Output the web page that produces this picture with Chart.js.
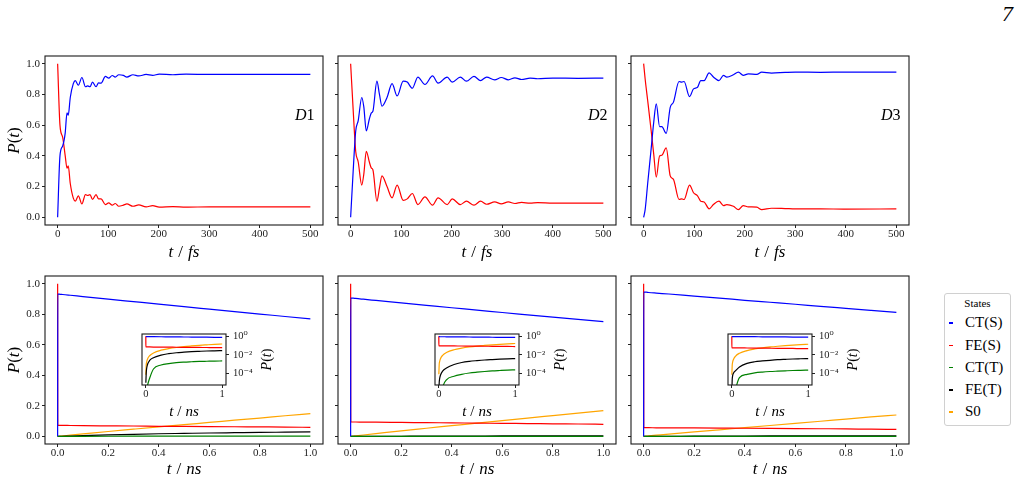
<!DOCTYPE html>
<html><head><meta charset="utf-8">
<script src="https://cdn.jsdelivr.net/npm/chart.js@4.4.1/dist/chart.umd.min.js"></script>
<style>
html,body{margin:0;padding:0;background:#fff;}
body{width:1024px;height:488px;position:relative;overflow:hidden;font-family:"Liberation Serif","DejaVu Serif",serif;color:#000;}
canvas{position:absolute;}
#legend{position:absolute;left:944px;top:293px;width:67px;height:133px;border:1px solid #d0d0d0;border-radius:3px;box-sizing:border-box;background:#fff;}
.lg{position:absolute;white-space:nowrap;color:#000;font-weight:normal;}
#pageno{position:absolute;left:1002px;top:3px;font-size:22px;line-height:22px;font-style:italic;color:#000;}
</style></head><body>
<div id="pageno">7</div>
<div id="legend"></div>
<script>
// ---------------- data ----------------
const stateNames = ['CT(S)','FE(S)','CT(T)','FE(T)','S0'];
const stateColors = ['#0000ff','#ff0000','#008000','#000000','#ffa500'];
const panelNames = ['D1','D2','D3'];
const fsTicks = [0,100,200,300,400,500];
const nsTicks = [0,0.2,0.4,0.6,0.8,1.0];
const pTicks = [0,0.2,0.4,0.6,0.8,1.0];
const insetXTicks = [0,1];
const insetYTicks = [1,1e-2,1e-4];
const insetYTickLabels = ['10\u2070','10\u207B\u00B2','10\u207B\u2074'];

// short-time dynamics (fs)
const d1Time = [0,4.6,10,15,18.5,21,25,31,35,41,48,55,59.5,64,69,76,81,86,94.5,101,108,114,121,130,137,149,160.5,175,188,201,228,254,300,400,500];
const d1CTS = [0,0.40,0.465,0.55,0.68,0.665,0.78,0.87,0.89,0.86,0.91,0.85,0.855,0.85,0.88,0.85,0.875,0.873,0.917,0.906,0.923,0.913,0.928,0.924,0.913,0.928,0.92,0.93,0.924,0.932,0.928,0.932,0.93,0.93,0.93];
const d1FES = [1.0,0.6,0.52,0.40,0.32,0.335,0.22,0.125,0.105,0.14,0.087,0.148,0.142,0.148,0.116,0.148,0.12,0.12,0.083,0.094,0.079,0.09,0.072,0.079,0.087,0.072,0.081,0.068,0.076,0.066,0.07,0.066,0.068,0.068,0.068];

const d2Time = [0,5,10,15,22,26,31,37,41,44,52,57,62,72,82,92,104,112,122,133,147,162,173,191,201,217,229,244,257,269,285,298,312,325,338,355,370,400,450,500];
const d2CTS = [0,0.3,0.56,0.63,0.78,0.72,0.563,0.64,0.68,0.69,0.886,0.80,0.723,0.78,0.87,0.79,0.886,0.88,0.84,0.913,0.865,0.92,0.873,0.913,0.88,0.913,0.886,0.917,0.89,0.913,0.895,0.91,0.895,0.908,0.897,0.906,0.902,0.906,0.905,0.906];
const d2FES = [1.0,0.7,0.43,0.36,0.21,0.28,0.43,0.36,0.32,0.31,0.105,0.19,0.27,0.2,0.127,0.21,0.11,0.12,0.155,0.083,0.133,0.079,0.127,0.083,0.12,0.083,0.105,0.079,0.105,0.085,0.1,0.088,0.1,0.09,0.097,0.092,0.095,0.092,0.093,0.092];

const d3Time = [0,3,8,15,20,25,31.6,36,44.7,52.6,59,70,75.6,80,90.8,98.7,106.6,113,119.7,129.6,138,149,158,164.5,177.6,187.5,197,207,224,233.5,253,280,300,350,400,500];
const d3CTS = [0,0.05,0.22,0.45,0.62,0.738,0.59,0.59,0.546,0.716,0.75,0.884,0.88,0.884,0.786,0.836,0.847,0.89,0.89,0.94,0.913,0.89,0.924,0.913,0.928,0.945,0.924,0.934,0.93,0.945,0.939,0.943,0.945,0.944,0.945,0.945];
const d3FES = [1.0,0.9,0.76,0.56,0.41,0.262,0.4,0.404,0.452,0.27,0.247,0.116,0.12,0.116,0.21,0.16,0.14,0.105,0.1,0.055,0.083,0.105,0.076,0.083,0.072,0.05,0.076,0.068,0.066,0.05,0.059,0.057,0.055,0.055,0.053,0.055];

// long-time dynamics (ns)
const nsTime = [0,0.0005,0.005,0.01,0.02,0.05,0.1,0.2,0.3,0.4,0.5,0.6,0.7,0.8,0.9,1.0];
const d1nsCTS = [0,0.932,0.931,0.930,0.929,0.924,0.915,0.898,0.882,0.866,0.849,0.833,0.817,0.801,0.785,0.769];
const d1nsFES = [1.0,0.072,0.072,0.072,0.072,0.071,0.070,0.069,0.068,0.066,0.065,0.064,0.063,0.062,0.061,0.059];
const d1nsCTT = [0,0,0,0.000001,0.000004,0.00003,0.0003,0.0008,0.00115,0.00145,0.00165,0.0018,0.00195,0.00205,0.00215,0.0022];
const d1nsFET = [0,0.00001,0.0001,0.0003,0.0008,0.0025,0.005,0.0095,0.0135,0.017,0.0195,0.022,0.024,0.026,0.0275,0.029];
const d1nsS0  = [0,0.00007,0.0008,0.0016,0.0032,0.008,0.016,0.032,0.047,0.062,0.077,0.091,0.106,0.12,0.135,0.149];

const d2nsCTS = [0,0.906,0.905,0.905,0.903,0.898,0.890,0.874,0.858,0.842,0.827,0.811,0.796,0.781,0.766,0.751];
const d2nsFES = [1.0,0.094,0.094,0.094,0.094,0.093,0.093,0.091,0.090,0.088,0.087,0.085,0.084,0.082,0.081,0.079];
const d2nsCTT = [0,0,0,0,0.0000001,0.000003,0.00002,0.00005,0.00008,0.00011,0.000135,0.00016,0.000185,0.000205,0.000225,0.00024];
const d2nsFET = [0,0.000001,0.00001,0.000025,0.00006,0.00018,0.00038,0.0009,0.0015,0.002,0.0024,0.0028,0.0031,0.0034,0.0037,0.004];
const d2nsS0  = [0,0.00008,0.0009,0.0018,0.0036,0.009,0.018,0.036,0.053,0.07,0.087,0.103,0.12,0.136,0.152,0.168];

const d3nsCTS = [0,0.945,0.944,0.944,0.942,0.938,0.932,0.918,0.905,0.891,0.878,0.865,0.851,0.838,0.825,0.812];
const d3nsFES = [1.0,0.057,0.057,0.057,0.057,0.056,0.056,0.055,0.054,0.053,0.052,0.051,0.050,0.049,0.047,0.046];
const d3nsCTT = [0,0,0,0,0.0000001,0.000002,0.000035,0.00008,0.000115,0.00014,0.00016,0.000175,0.00019,0.000205,0.000215,0.000225];
const d3nsFET = [0,0.000001,0.00002,0.00005,0.0001,0.0002,0.0005,0.0012,0.0018,0.0022,0.0026,0.003,0.0033,0.0036,0.0038,0.004];
const d3nsS0  = [0,0.00007,0.0007,0.0015,0.003,0.0075,0.015,0.029,0.043,0.057,0.071,0.085,0.099,0.113,0.127,0.14];

// ---------------- rendering ----------------
const FONT = '"Liberation Serif","DejaVu Serif",serif';
Chart.defaults.font.family = FONT;
Chart.defaults.color = '#000';

const colsL = [45,338,631], colW = 278;
const rowTop = {T:56,H:169,Hx:38,titleDy:32};
const rowBot = {T:276,H:168,Hx:36,titleDy:30};
const insetL = [142,435,728], insetT = 334, insetW = 84, insetH = 51;

const mathP = [{s:'P',i:1},{s:'('},{s:'t',i:1},{s:')'}];
const mathTfs = [{s:'t',i:1},{g:5},{s:'/'},{g:5},{s:'fs',i:1}];
const mathTns = [{s:'t',i:1},{g:5},{s:'/'},{g:5},{s:'ns',i:1}];
const mathTnsSmall = [{s:'t',i:1},{g:4},{s:'/'},{g:4},{s:'ns',i:1}];

const framePlugin = {
  id:'frame',
  beforeDraw(chart){ const {ctx, chartArea:a} = chart; ctx.save(); ctx.fillStyle='#fff'; ctx.fillRect(a.left,a.top,a.right-a.left,a.bottom-a.top); ctx.restore(); },
  afterDraw(chart){ const {ctx, chartArea:a} = chart; ctx.save(); ctx.strokeStyle='#1a1a1a'; ctx.lineWidth=1.1; ctx.strokeRect(a.left,a.top,a.right-a.left,a.bottom-a.top); ctx.restore(); }
};
const annotPlugin = {
  id:'annot',
  afterDraw(chart, args, o){
    const {ctx, chartArea:a} = chart;
    (o.texts||[]).forEach(t=>{
      ctx.save();
      ctx.translate(a.left + t.dx, a.top + t.dy);
      if (t.rot) ctx.rotate(t.rot);
      ctx.textBaseline = t.baseline || 'alphabetic';
      ctx.textAlign = 'left';
      ctx.fillStyle = '#000';
      const fnt = p => (p.i ? 'italic ' : '') + t.size + 'px ' + FONT;
      let w = 0;
      t.parts.forEach(p=>{ if (p.g) { w += p.g; } else { ctx.font = fnt(p); w += ctx.measureText(p.s).width; } });
      let x = t.align === 'center' ? -w/2 : 0;
      t.parts.forEach(p=>{ if (p.g) { x += p.g; } else { ctx.font = fnt(p); ctx.fillText(p.s, x, 0); x += ctx.measureText(p.s).width; } });
      ctx.restore();
    });
  }
};

function addCanvas(left, top, w, h){
  const c = document.createElement('canvas');
  c.width = w; c.height = h;
  c.style.left = left+'px'; c.style.top = top+'px';
  c.style.width = w+'px'; c.style.height = h+'px';
  document.body.appendChild(c);
  return c;
}
function lineDS(xs, ys, color){
  return {data: xs.map((x,i)=>({x:x, y:ys[i]})), borderColor:color, backgroundColor:color,
          borderWidth:1.2, pointRadius:0, fill:false, cubicInterpolationMode:'monotone', tension:0};
}
const gridOpts = {display:true, drawOnChartArea:false, drawTicks:true, tickLength:3, tickWidth:1, tickColor:'#222', color:'#222'};
function zeroPad(s){ s.paddingLeft=0; s.paddingRight=0; s.paddingTop=0; s.paddingBottom=0; }

function mainChart(col, row, o){
  const L = colsL[col], T = row.T, W = colW, H = row.H, Hx = row.Hx, Wy = col===0 ? 45 : 8, pad = 4;
  const cv = addCanvas(L-Wy, T-pad, W+Wy+pad, H+Hx+pad);
  const texts = [{parts:o.xTitle, size:17, dx:W/2, dy:H+row.titleDy, align:'center'}];
  if (col===0) texts.push({parts:mathP, size:17, dx:-30, dy:H/2, rot:-Math.PI/2, align:'center', baseline:'middle'});
  if (o.label) texts.push({parts:[{s:o.label[0],i:1},{s:o.label.slice(1)}], size:16, dx:250, dy:64, align:'left'});
  return new Chart(cv.getContext('2d'), {
    type:'line',
    data:{datasets:o.datasets},
    options:{
      responsive:false, maintainAspectRatio:false, animation:false, devicePixelRatio:1, events:[],
      layout:{padding:{left:0, top:pad, right:pad, bottom:0}},
      plugins:{legend:{display:false}, tooltip:{enabled:false}, annot:{texts:texts}},
      scales:{
        x:{type:'linear', position:'bottom', min:o.xmin, max:o.xmax,
           afterBuildTicks:s=>{ s.ticks = o.xTicks.map(v=>({value:v})); },
           afterFit:s=>{ s.height = Hx; zeroPad(s); },
           grid:gridOpts, border:{display:false},
           ticks:{autoSkip:false, maxRotation:0, minRotation:0, padding:0, color:'#222', font:{size:11, family:FONT}, callback:o.xFmt}},
        y:{type:'linear', position:'left', min:-0.05, max:1.05,
           afterBuildTicks:s=>{ s.ticks = pTicks.map(v=>({value:v})); },
           afterFit:s=>{ s.width = Wy; zeroPad(s); },
           grid:gridOpts, border:{display:false},
           ticks:{autoSkip:false, padding:2, color:'#222', font:{size:11, family:FONT}, callback:v=> col===0 ? Number(v).toFixed(1) : ''}}
      }
    },
    plugins:[framePlugin, annotPlugin]
  });
}

function insetChart(col, datasets){
  const L = insetL[col], T = insetT, W = insetW, H = insetH, padL = 4, padT = 8, Wr = 52, Hx = 36;
  const cv = addCanvas(L-padL, T-padT, W+padL+Wr, H+padT+Hx);
  const texts = [
    {parts:mathTnsSmall, size:15, dx:W/2, dy:H+30.7, align:'center'},
    {parts:mathP, size:14, dx:W+41.5, dy:H/2, rot:-Math.PI/2, align:'center', baseline:'middle'}
  ];
  return new Chart(cv.getContext('2d'), {
    type:'line',
    data:{datasets:datasets},
    options:{
      responsive:false, maintainAspectRatio:false, animation:false, devicePixelRatio:1, events:[],
      layout:{padding:{left:padL, top:padT, right:0, bottom:0}},
      plugins:{legend:{display:false}, tooltip:{enabled:false}, annot:{texts:texts}},
      scales:{
        x:{type:'linear', position:'bottom', min:-0.05, max:1.05,
           afterBuildTicks:s=>{ s.ticks = insetXTicks.map(v=>({value:v})); },
           afterFit:s=>{ s.height = Hx; zeroPad(s); },
           grid:gridOpts, border:{display:false},
           ticks:{autoSkip:false, maxRotation:0, minRotation:0, padding:0, color:'#222', font:{size:10.5, family:FONT}, callback:v=>String(v)}},
        y:{type:'logarithmic', position:'right', min:Math.pow(10,-5.25), max:Math.pow(10,0.25),
           afterBuildTicks:s=>{ s.ticks = insetYTicks.map(v=>({value:v})); },
           afterFit:s=>{ s.width = Wr; zeroPad(s); },
           grid:gridOpts, border:{display:false},
           ticks:{autoSkip:false, padding:4, color:'#222', font:{size:10.5, family:FONT}, callback:v=>insetYTickLabels[insetYTicks.indexOf(v)]}}
      }
    },
    plugins:[framePlugin, annotPlugin]
  });
}

const fsSets = [[d1Time,d1CTS,d1FES],[d2Time,d2CTS,d2FES],[d3Time,d3CTS,d3FES]];
const nsSets = [
  [d1nsCTS,d1nsFES,d1nsCTT,d1nsFET,d1nsS0],
  [d2nsCTS,d2nsFES,d2nsCTT,d2nsFET,d2nsS0],
  [d3nsCTS,d3nsFES,d3nsCTT,d3nsFET,d3nsS0]
];

for (let c=0; c<3; c++){
  const [tt, cts, fes] = fsSets[c];
  mainChart(c, rowTop, {
    datasets:[lineDS(tt, cts, stateColors[0]), lineDS(tt, fes, stateColors[1])],
    xmin:-25, xmax:525, xTicks:fsTicks, xFmt:v=>String(v), xTitle:mathTfs, label:panelNames[c]
  });
}
for (let c=0; c<3; c++){
  const series = nsSets[c];
  mainChart(c, rowBot, {
    datasets: series.map((ys,k)=>lineDS(nsTime, ys, stateColors[k])),
    xmin:-0.05, xmax:1.05, xTicks:nsTicks, xFmt:v=>Number(v).toFixed(1), xTitle:mathTns
  });
}
for (let c=0; c<3; c++){
  const series = nsSets[c];
  insetChart(c, series.map((ys,k)=>lineDS(nsTime, ys, stateColors[k])));
}

// legend
(function(){
  const lg = document.getElementById('legend');
  const ox = 945, oy = 294;
  const t = document.createElement('div');
  t.className = 'lg'; t.textContent = 'States';
  t.style.cssText = 'left:0;width:65px;text-align:center;top:'+(307-9.2-oy)+'px;font-size:11px;line-height:11px;color:#000;';
  lg.appendChild(t);
  stateNames.forEach((name,i)=>{
    const base = 328 + 22.25*i;
    const m = document.createElement('div');
    m.className = 'lg';
    m.style.cssText = 'left:'+(949-ox)+'px;top:'+(base-5-0.75-oy)+'px;width:4px;height:1.5px;background:'+stateColors[i]+';';
    lg.appendChild(m);
    const d = document.createElement('div');
    d.className = 'lg'; d.textContent = name;
    d.style.cssText = 'left:'+(965-ox)+'px;top:'+(base-12.56-oy)+'px;font-size:15px;line-height:15px;color:#000;';
    lg.appendChild(d);
  });
})();
</script>
</body></html>
